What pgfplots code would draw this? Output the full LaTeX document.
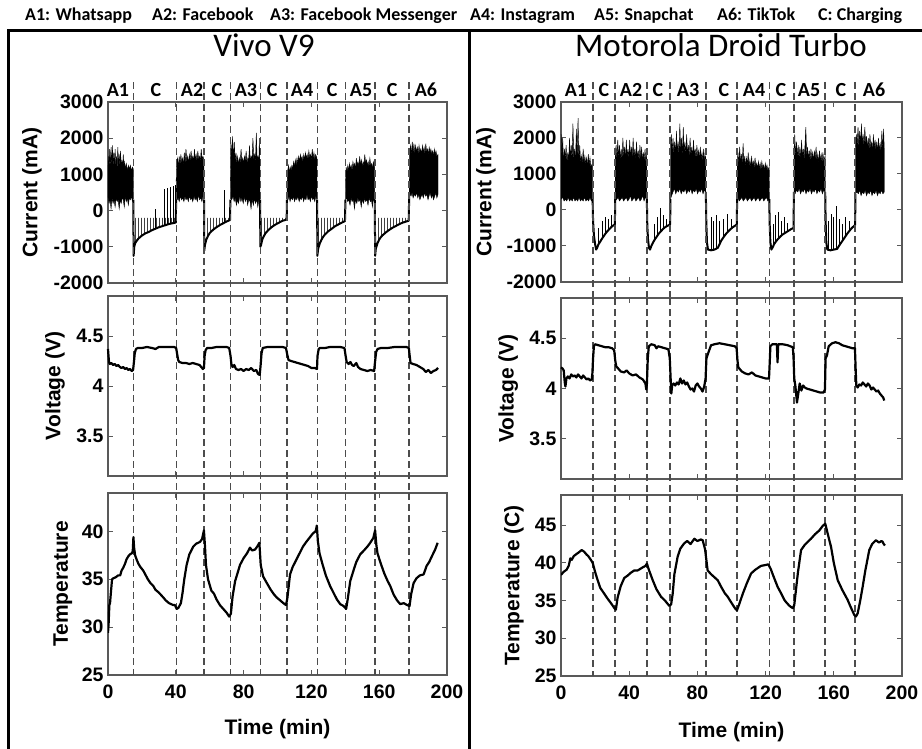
\documentclass[border=0pt]{standalone}
\usepackage{fontspec}
\setmainfont{Liberation Sans}
\newfontfamily\calibri{Carlito}
\usepackage{pgfplots}
\pgfplotsset{compat=1.18}
\usetikzlibrary{patterns}

\definecolor{boxgray}{gray}{0.35}
\definecolor{dashgray}{gray}{0.3}

\pgfplotsset{
  panel/.style={
    scale only axis, anchor=north west,
    xmin=0, xmax=200, xtick={0,40,...,200},
    tick align=inside, major tick length=5pt,
    axis line style={boxgray, line width=1.2pt},
    tick style={boxgray, line width=1pt},
    tick label style={font=\fontsize{19.5}{22}\selectfont\bfseries},
    yticklabel style={xshift=-1pt},
    xticklabel style={yshift=-6pt},
    label style={font=\fontsize{21}{24}\selectfont\bfseries},
    /pgf/number format/assume math mode=true,
    /pgf/number format/1000 sep={},
  },
  curaxis/.style={panel, ymin=-2000, ymax=3000, ytick={-2000,-1000,...,3000},
    xticklabels={}, clip=false, ylabel={Current (mA)}},
  voltaxis/.style={panel, ymin=3.1, ymax=4.9, ytick={3.5,4,4.5},
    xticklabels={}, clip=false, ylabel={Voltage (V)}},
  trace/.style={black, line width=2.2pt, line join=round},
  blockfill/.style={fill=black, draw=black, line width=0.4pt},
  chg/.style={black, line width=2pt, line join=round},
  comb/.style={draw=none, pattern=vertical lines, pattern color=black!75},
  spike/.style={black, line width=0.7pt, unbounded coords=jump},
}
\tikzset{
  dashline/.style={dashgray, line width=1.6pt, dash pattern=on 7pt off 4pt},
  phase/.style={font=\calibri\bfseries\fontsize{20}{22}\selectfont, anchor=base, yshift=5pt, inner sep=0pt},
  legtxt/.style={font=\calibri\bfseries\fontsize{18}{22}\selectfont, anchor=base west, inner sep=0pt},
  ttl/.style={font=\calibri\fontsize{33}{36}\selectfont, anchor=base, inner sep=0pt},
}

\begin{document}
\begin{tikzpicture}
\path[use as bounding box] (0pt,0pt) rectangle (922pt,-749pt);

% top key
\node[legtxt] at (25pt,-20.5pt) {A1: Whatsapp};
\node[legtxt] at (152pt,-20.5pt) {A2: Facebook};
\node[legtxt] at (270pt,-20.5pt) {A3: Facebook Messenger};
\node[legtxt] at (470pt,-20.5pt) {A4: Instagram};
\node[legtxt] at (594pt,-20.5pt) {A5: Snapchat};
\node[legtxt] at (717pt,-20.5pt) {A6: TikTok};
\node[legtxt] at (818pt,-20.5pt) {C: Charging};

% panel frame
\draw[line width=3pt] (922pt,-31pt) -- (8pt,-31pt) -- (8pt,-749pt);
\draw[line width=3pt] (469pt,-31pt) -- (469pt,-749pt);

\node[ttl] at (264pt,-56.5pt) {Vivo V9};
\node[ttl] at (721pt,-56.5pt) {Motorola Droid Turbo};

%================ Vivo V9 =================
\begin{axis}[curaxis, at={(108pt,-102pt)}, width=339pt, height=181pt,
  ylabel style={at={(axis description cs:-0.224,0.5)}, anchor=center}]
% app blocks
\addplot[blockfill] coordinates {(0,900)(0.2,1500)(0.6,1100)(1,1700)(1.4,1200)(1.8,1750)(2.2,1150)(2.6,1800)(3,1200)(3.4,1600)(3.8,1250)(4.2,1700)(4.6,1200)(5,1500)(5.4,1150)(5.8,1750)(6.2,1250)(6.6,1550)(7,1200)(7.4,1650)(7.8,1200)(8.2,1400)(8.6,1150)(9,1550)(9.4,1200)(9.8,1350)(10.2,1150)(10.8,1300)(11.4,1100)(12,1250)(12.6,1150)(13.2,1250)(13.8,1100)(14.4,1200)(14.9,1150)
 (14.9,350)(14.4,250)(13.8,400)(13.2,300)(12.6,350)(12,150)(11.4,350)(10.8,250)(10.2,400)(9.6,100)(9,300)(8.4,350)(7.8,200)(7.2,300)(6.6,50)(6,300)(5.4,250)(4.8,350)(4.2,100)(3.6,300)(3,200)(2.4,350)(1.8,50)(1.2,300)(0.6,200)(0,400)};
\addplot[blockfill] coordinates {(40.2,800)(40.5,1300)(41,1450)(41.5,1200)(42,1500)(42.5,1250)(43,1550)(43.5,1300)(44,1450)(44.5,1250)(45,1600)(45.5,1300)(46,1700)(46.5,1350)(47,1500)(47.5,1300)(48,1550)(48.5,1350)(49,1650)(49.5,1400)(50,1500)(50.5,1350)(51,1700)(51.5,1400)(52,1550)(52.5,1350)(53,1650)(53.5,1400)(54,1500)(54.5,1350)(55,1700)(55.5,1400)(56,1500)(56.6,1400)
 (56.6,300)(56,400)(55.4,250)(54.8,350)(54,300)(53.4,450)(52.8,250)(52,350)(51.4,300)(50.8,400)(50,250)(49.4,350)(48.8,300)(48,400)(47.4,250)(46.8,350)(46,300)(45.4,400)(44.8,250)(44,350)(43.4,300)(42.8,400)(42,250)(41.4,350)(40.8,300)(40.2,300)};
\addplot[blockfill] coordinates {(72.2,800)(72.5,1900)(73,1500)(73.5,2050)(74,1400)(74.5,1900)(75,1350)(75.5,1600)(76,1300)(76.5,1500)(77,1250)(77.5,1450)(78,1300)(78.5,1700)(79,1350)(79.5,1450)(80,1300)(80.5,1500)(81,1350)(81.5,1650)(82,1300)(82.5,1450)(83,1400)(83.5,1800)(84,1350)(84.5,1500)(85,1400)(85.5,2000)(86,1400)(86.5,1550)(87,1350)(87.5,2150)(88,1400)(88.5,1500)(89,1350)(89.3,2000)(89.6,1300)
 (89.6,150)(89,300)(88.4,100)(87.8,300)(87,200)(86.4,350)(85.8,150)(85,300)(84.4,50)(83.8,250)(83,300)(82.4,150)(81.8,350)(81,250)(80.4,400)(79.8,200)(79,350)(78.4,250)(77.8,400)(77,200)(76.4,300)(75.8,150)(75,350)(74.4,250)(73.8,400)(73,300)(72.2,350)};
\addplot[blockfill] coordinates {(105.6,700)(106,1100)(106.5,1250)(107,1050)(107.5,1200)(108,1100)(108.5,1250)(109,1150)(109.5,1350)(110,1200)(110.5,1400)(111,1250)(111.5,1450)(112,1300)(112.5,1500)(113,1350)(113.5,1550)(114,1400)(114.5,1500)(115,1350)(115.5,1550)(116,1400)(116.5,1600)(117,1450)(117.5,1550)(118,1400)(118.5,1650)(119,1450)(119.5,1550)(120,1400)(120.5,1700)(121,1450)(121.5,1600)(122,1400)(122.5,1550)(123.3,1450)
 (123.3,300)(122.6,400)(122,250)(121.4,350)(120.8,300)(120,400)(119.4,250)(118.8,350)(118,300)(117.4,450)(116.8,300)(116,350)(115.4,250)(114.8,400)(114,300)(113.4,350)(112.8,250)(112,400)(111.4,300)(110.8,350)(110,250)(109.4,400)(108.8,300)(108,350)(107.4,250)(106.8,400)(106.2,300)(105.6,300)};
\addplot[blockfill] coordinates {(140.1,700)(140.5,1200)(141,1050)(141.5,1250)(142,1100)(142.5,1300)(143,1150)(143.5,1250)(144,1100)(144.5,1350)(145,1200)(145.5,1300)(146,1150)(146.5,1450)(147,1250)(147.5,1350)(148,1200)(148.5,1500)(149,1250)(149.5,1400)(150,1200)(150.5,1350)(151,1250)(151.5,1550)(152,1300)(152.5,1400)(153,1250)(153.5,1350)(154,1200)(154.5,1450)(155,1250)(155.5,1300)(156,1150)(156.5,1350)(157.3,1200)
 (157.3,200)(156.6,350)(156,100)(155.4,300)(154.8,250)(154,350)(153.4,150)(152.8,300)(152,250)(151.4,350)(150.8,200)(150,300)(149.4,100)(148.8,300)(148,250)(147.4,350)(146.8,200)(146,300)(145.4,50)(144.8,300)(144,250)(143.4,350)(142.8,150)(142,300)(141.4,250)(140.8,350)(140.1,300)};
\addplot[blockfill] coordinates {(177.7,800)(178,1600)(178.5,1800)(179,1550)(179.5,1900)(180,1600)(180.5,1850)(181,1550)(181.5,1800)(182,1600)(182.5,1750)(183,1550)(183.5,1800)(184,1600)(184.5,1700)(185,1550)(185.5,1800)(186,1600)(186.5,1750)(187,1550)(187.5,1850)(188,1600)(188.5,1700)(189,1550)(189.5,1750)(190,1600)(190.5,1700)(191,1550)(191.5,1650)(192,1500)(192.5,1700)(193,1550)(193.5,1650)(194,1500)(194.7,1550)
 (194.7,450)(194,350)(193.4,500)(192.8,400)(192,300)(191.4,450)(190.8,350)(190,500)(189.4,400)(188.8,300)(188,450)(187.4,400)(186.8,500)(186,350)(185.4,450)(184.8,400)(184,300)(183.4,450)(182.8,350)(182,500)(181.4,400)(180.8,450)(180,350)(179.4,500)(178.8,400)(178.2,450)(177.7,500)};
% charging combs
\addplot[comb] coordinates {(15.5,-1000)(16,-900)(17,-830)(18,-770)(19,-730)(20,-690)(22,-630)(24,-590)(26,-540)(28,-500)(30,-460)(32,-430)(34,-400)(36,-370)(38,-350)(40,-330)(40,-200)(15.5,-200)};
\addplot[comb] coordinates {(57.2,-950)(58,-800)(59,-700)(60,-620)(62,-530)(64,-460)(66,-400)(68,-350)(70,-300)(72,-260)(72,-200)(57.2,-200)};
\addplot[comb] coordinates {(90.3,-950)(91,-800)(92,-700)(93,-620)(95,-520)(97,-440)(99,-380)(101,-330)(103,-280)(105.4,-250)(105.4,-200)(90.3,-200)};
\addplot[comb] coordinates {(124,-1050)(125,-900)(126,-800)(127,-720)(128,-660)(130,-570)(132,-500)(134,-430)(136,-380)(138,-330)(139.8,-290)(139.8,-200)(124,-200)};
\addplot[comb] coordinates {(158,-1050)(159,-900)(160,-800)(161,-730)(162,-680)(164,-600)(166,-530)(168,-470)(170,-420)(172,-370)(174,-330)(176,-300)(177.4,-280)(177.4,-200)(158,-200)};
% charging curves
\addplot[chg] coordinates {(14.95,300)(15.1,-1250)(15.5,-1000)(16,-900)(17,-830)(18,-770)(19,-730)(20,-690)(22,-630)(24,-590)(26,-540)(28,-500)(30,-460)(32,-430)(34,-400)(36,-370)(38,-350)(40,-330)(40.2,300)};
\addplot[chg] coordinates {(56.7,300)(56.8,-1100)(57.2,-950)(58,-800)(59,-700)(60,-620)(62,-530)(64,-460)(66,-400)(68,-350)(70,-300)(72,-260)(72.2,300)};
\addplot[chg] coordinates {(89.7,300)(89.9,-1000)(90.3,-950)(91,-800)(92,-700)(93,-620)(95,-520)(97,-440)(99,-380)(101,-330)(103,-280)(105.4,-250)(105.6,300)};
\addplot[chg] coordinates {(123.4,300)(123.5,-1250)(124,-1050)(125,-900)(126,-800)(127,-720)(128,-660)(130,-570)(132,-500)(134,-430)(136,-380)(138,-330)(139.8,-290)(140.1,300)};
\addplot[chg] coordinates {(157.4,300)(157.6,-1250)(158,-1050)(159,-900)(160,-800)(161,-730)(162,-680)(164,-600)(166,-530)(168,-470)(170,-420)(172,-370)(174,-330)(176,-300)(177.4,-280)(177.7,400)};
\addplot[spike] coordinates {(28,-500)(28,50)(28,nan)(33,-410)(33,600)(33,nan)(35,-390)(35,620)(35,nan)(36.8,-360)(36.8,640)(36.8,nan)(38.5,-345)(38.5,690)(38.5,nan)(39.5,-335)(39.5,700)(39.5,nan)(68.4,-350)(68.4,570)};
\pgfplotsinvokeforeach{15,40.3,56.8,72.3,90,105.6,123.5,140,157.6,177.6}{
  \draw[dashline] (axis cs:#1,3552) -- (axis cs:#1,-2359);}
\node[phase] at (axis cs:5.9,3000) {A1};
\node[phase] at (axis cs:28.3,3000) {C};
\node[phase] at (axis cs:49.6,3000) {A2};
\node[phase] at (axis cs:64.3,3000) {C};
\node[phase] at (axis cs:81.4,3000) {A3};
\node[phase] at (axis cs:96.8,3000) {C};
\node[phase] at (axis cs:114.5,3000) {A4};
\node[phase] at (axis cs:132.2,3000) {C};
\node[phase] at (axis cs:149.3,3000) {A5};
\node[phase] at (axis cs:167.6,3000) {C};
\node[phase] at (axis cs:187.6,3000) {A6};
\end{axis}

\begin{axis}[voltaxis, at={(108pt,-296pt)}, width=339pt, height=180pt,
  ylabel style={at={(axis description cs:-0.156,0.5)}, anchor=center}]
\pgfplotsinvokeforeach{15,40.3,56.8,72.3,90,105.6,123.5,140,157.6,177.6}{
  \draw[dashline] (axis cs:#1,4.9) -- (axis cs:#1,2.93);}
\addplot[trace] coordinates {(0,4.37)(0.3,4.30)(0.6,4.24)(1,4.22)(2,4.23)(3,4.21)(4,4.22)(5,4.20)(6,4.21)(7,4.19)(8,4.18)(9,4.19)(10,4.17)(11,4.18)(12,4.16)(13,4.17)(14,4.15)(14.8,4.16)(15.3,4.24)(15.8,4.33)(16.5,4.37)(17.5,4.38)(20,4.38)(23,4.39)(26,4.38)(28,4.37)(30,4.39)(33,4.39)(36,4.39)(39,4.39)(40.2,4.38)(40.8,4.32)(41.4,4.26)(42,4.24)(44,4.23)(46,4.23)(48,4.22)(50,4.23)(52,4.22)(54,4.21)(55,4.19)(56,4.17)(56.6,4.18)(57,4.30)(57.6,4.36)(58.5,4.38)(61,4.38)(64,4.39)(67,4.39)(70,4.39)(71.5,4.38)(72.3,4.30)(72.8,4.22)(73.5,4.19)(74.5,4.21)(75.5,4.17)(77,4.16)(78.5,4.17)(80,4.15)(81.5,4.17)(83,4.16)(84.5,4.18)(86,4.15)(87.5,4.16)(88.5,4.12)(89.5,4.11)(90,4.20)(90.6,4.33)(91.3,4.38)(94,4.39)(97,4.39)(100,4.39)(103,4.39)(105,4.38)(105.8,4.31)(106.5,4.26)(108,4.25)(110,4.24)(112,4.23)(114,4.22)(116,4.21)(118,4.20)(120,4.18)(122,4.18)(123.3,4.17)(123.6,4.30)(124.3,4.37)(125,4.38)(128,4.38)(131,4.39)(134,4.39)(137,4.39)(139.5,4.38)(140.2,4.30)(140.8,4.24)(142,4.22)(143,4.24)(144,4.21)(145,4.20)(146.5,4.23)(147.5,4.19)(149,4.17)(151,4.16)(153,4.15)(155,4.16)(157,4.15)(157.6,4.25)(158.2,4.34)(159,4.37)(161,4.38)(165,4.38)(169,4.39)(173,4.39)(176,4.39)(177.5,4.38)(178,4.30)(178.5,4.23)(180,4.22)(182,4.21)(184,4.19)(186,4.17)(187.5,4.14)(189,4.16)(190.5,4.13)(192,4.15)(193.5,4.16)(194.7,4.18)};
\end{axis}

\begin{axis}[panel, at={(108pt,-493pt)}, width=339pt, height=182pt,
  ymin=25, ymax=44, ytick={25,30,35,40},
  ylabel={Temperature}, xlabel={Time (min)},
  ylabel style={at={(axis description cs:-0.133,0.5)}, anchor=center},
  xlabel style={at={(axis description cs:0.5,-0.297)}, anchor=center}]
\pgfplotsinvokeforeach{15,40.3,56.8,72.3,90,105.6,123.5,140,157.6,177.6}{
  \draw[dashline] (axis cs:#1,44) -- (axis cs:#1,25);}
\addplot[trace] coordinates {(0,29.4)(0.4,30.5)(0.8,32.3)(1.2,32.5)(1.8,33.8)(2.4,35.0)(3.2,35.1)(4.5,35.2)(6,35.4)(7.2,35.4)(8,35.9)(9,36.2)(10,36.6)(11,37.1)(12,37.4)(13,37.6)(14,37.7)(14.6,37.9)(15,39.4)(15.4,38.3)(16,37.5)(17,37.0)(18,36.6)(19,36.3)(20.8,35.9)(22,35.5)(23.5,35.0)(25,34.6)(26.7,34.3)(28,33.9)(30,33.6)(32.6,33.1)(34,32.8)(36,32.5)(38.5,32.3)(39.5,32.3)(40.5,31.9)(41.5,32.0)(43,32.5)(44,33.6)(45,35.0)(46.4,36.5)(48,37.6)(50.3,38.4)(52,38.7)(54.3,38.9)(55.5,39.2)(56.6,40.1)(57.2,38.5)(57.8,36.5)(59,35.0)(61,33.8)(62.5,33.5)(64,32.9)(66,32.3)(68,31.9)(70,31.5)(71.5,31.1)(72.5,31.4)(73.5,33.2)(75,34.8)(77.9,36.5)(80,37.2)(82,37.7)(83.8,38.3)(85,38.0)(86.8,38.1)(88,38.4)(89.3,38.8)(90.1,36.5)(91.5,35.3)(93.7,34.6)(96,33.9)(98,33.4)(99.5,33.1)(101.5,32.8)(103.5,32.5)(105,32.3)(105.8,33.0)(107.4,35.5)(109,36.3)(111,37.0)(113.3,37.8)(115,38.4)(117,38.9)(119.2,39.4)(121,39.8)(122.5,40.0)(123.2,40.6)(123.8,39.0)(124.8,37.7)(126.5,36.6)(128.5,35.4)(131,34.3)(133,33.6)(135,32.9)(137,32.4)(139,32.2)(140.5,31.9)(141.5,33.0)(142.9,34.8)(145,36.0)(146.5,36.8)(148.8,37.6)(151,38.0)(153,38.4)(154.7,38.8)(156.5,39.3)(157.6,40.1)(158.3,38.6)(159,37.7)(161,36.6)(163,35.6)(165,34.8)(166.5,34.3)(168.5,33.4)(170.5,32.8)(172.4,32.4)(174.5,32.5)(176.5,32.3)(177.9,32.2)(178.8,33.4)(180.3,34.6)(182,35.1)(184,35.4)(186.2,35.5)(188,36.4)(189.5,36.8)(191.1,37.4)(193,38.1)(194.5,38.8)};
\end{axis}

%================ Motorola Droid Turbo =================
\begin{axis}[curaxis, at={(561pt,-102pt)}, width=341pt, height=180pt,
  ylabel style={at={(axis description cs:-0.22,0.5)}, anchor=center}]
\addplot[blockfill] coordinates {(0.1,2100)(0.5,1500)(1,2000)(1.5,1300)(2,1700)(2.5,1400)(3,1800)(3.5,1300)(4,1600)(4.5,1350)(5,2000)(5.5,1400)(6,1800)(6.5,1350)(7,2400)(7.5,1400)(8,1700)(8.5,1300)(9,2250)(9.5,1400)(10,2550)(10.5,1350)(11,1800)(11.5,1300)(12,1500)(12.5,1250)(13,1700)(13.5,1300)(14,1500)(14.5,1250)(15,1450)(15.5,1200)(16,1550)(16.5,1250)(17,1450)(17.5,1200)(18.5,1300)
 (18.5,300)(17.8,250)(17,350)(16.2,250)(15.4,300)(14.6,250)(13.8,350)(13,250)(12.2,300)(11.4,250)(10.6,350)(9.8,250)(9,300)(8.2,250)(7.4,350)(6.6,250)(5.8,300)(5,250)(4.2,350)(3.4,250)(2.6,300)(1.8,250)(1,350)(0.1,300)};
\addplot[blockfill] coordinates {(31.8,1500)(32.3,1800)(32.8,1400)(33.3,1950)(33.8,1450)(34.3,1800)(34.8,1400)(35.3,1700)(35.8,1350)(36.3,2000)(36.8,1450)(37.3,1750)(37.8,1400)(38.3,1950)(38.8,1450)(39.3,1700)(39.8,1400)(40.3,1950)(40.8,1450)(41.3,1750)(41.8,1400)(42.3,2000)(42.8,1450)(43.3,1700)(43.8,1400)(44.3,1900)(44.8,1400)(45.3,1650)(45.8,1350)(46.3,1800)(46.8,1400)(47.3,1750)(47.8,1350)(48.3,1600)(48.8,1350)(49.3,1700)(49.8,1300)(50.3,1550)
 (50.3,300)(49.5,350)(48.7,250)(47.9,400)(47.1,300)(46.3,250)(45.5,350)(44.7,300)(43.9,250)(43.1,350)(42.3,300)(41.5,250)(40.7,400)(39.9,300)(39.1,250)(38.3,350)(37.5,300)(36.7,250)(35.9,350)(35.1,300)(34.3,250)(33.5,350)(32.7,300)(31.8,250)};
\addplot[blockfill] coordinates {(64.2,1800)(64.7,2100)(65.2,1600)(65.7,2000)(66.2,1550)(66.7,1900)(67.2,1500)(67.7,2200)(68.2,1600)(68.7,1900)(69.2,1500)(69.7,2400)(70.2,1600)(70.7,2000)(71.2,1500)(71.7,2300)(72.2,1600)(72.7,1900)(73.2,1500)(73.7,2100)(74.2,1550)(74.7,1800)(75.2,1450)(75.7,2000)(76.2,1500)(76.7,1750)(77.2,1450)(77.7,1950)(78.2,1500)(78.7,1700)(79.2,1400)(79.7,1800)(80.2,1450)(80.7,1650)(81.2,1400)(81.7,1750)(82.2,1400)(82.7,1600)(83.2,1350)(83.7,1700)(84.2,1400)(84.9,1500)
 (84.9,500)(84.1,550)(83.3,450)(82.5,600)(81.7,500)(80.9,550)(80.1,450)(79.3,600)(78.5,500)(77.7,550)(76.9,450)(76.1,600)(75.3,500)(74.5,550)(73.7,450)(72.9,600)(72.1,500)(71.3,550)(70.5,450)(69.7,600)(68.9,500)(68.1,550)(67.3,450)(66.5,600)(65.7,500)(64.9,400)(64.2,300)};
\addplot[blockfill] coordinates {(103.3,1300)(103.8,1600)(104.3,1250)(104.8,1750)(105.3,1300)(105.8,1550)(106.3,1250)(106.8,1850)(107.3,1300)(107.8,1500)(108.3,1200)(108.8,1450)(109.3,1250)(109.8,1600)(110.3,1200)(110.8,1400)(111.3,1150)(111.8,1500)(112.3,1200)(112.8,1350)(113.3,1150)(113.8,1450)(114.3,1200)(114.8,1300)(115.3,1150)(115.8,1350)(116.3,1150)(116.8,1300)(117.3,1100)(117.8,1350)(118.3,1150)(118.8,1250)(119.3,1100)(119.8,1300)(120.3,1150)(120.8,1250)(121.3,1100)(122.1,1200)
 (122.1,300)(121.3,250)(120.5,350)(119.7,300)(118.9,250)(118.1,350)(117.3,300)(116.5,250)(115.7,350)(114.9,300)(114.1,250)(113.3,350)(112.5,300)(111.7,250)(110.9,350)(110.1,300)(109.3,250)(108.5,350)(107.7,300)(106.9,250)(106.1,350)(105.3,300)(104.5,250)(103.7,350)(103.3,300)};
\addplot[blockfill] coordinates {(136.6,1600)(137.1,2100)(137.6,1500)(138.1,1900)(138.6,1450)(139.1,1800)(139.6,1400)(140.1,1750)(140.6,1400)(141.1,1950)(141.6,1450)(142.1,1700)(142.6,1400)(143.1,1800)(143.6,2300)(144.1,1450)(144.6,1750)(145.1,1400)(145.6,1650)(146.1,1350)(146.6,1700)(147.1,1400)(147.6,1600)(148.1,1350)(148.6,1650)(149.1,1400)(149.6,1750)(150.1,1350)(150.6,1550)(151.1,1300)(151.6,1650)(152.1,1350)(152.6,1550)(153.1,1300)(153.6,1600)(154.1,1350)(154.9,1500)
 (154.9,500)(154.1,550)(153.3,450)(152.5,600)(151.7,500)(150.9,550)(150.1,450)(149.3,600)(148.5,500)(147.7,550)(146.9,450)(146.1,600)(145.3,500)(144.5,550)(143.7,450)(142.9,600)(142.1,500)(141.3,550)(140.5,450)(139.7,600)(138.9,500)(138.1,550)(137.3,450)(136.6,500)};
\addplot[blockfill] coordinates {(172.7,1700)(173.2,2100)(173.7,1800)(174.2,2300)(174.7,1750)(175.2,2200)(175.7,1800)(176.2,2400)(176.7,1850)(177.2,2100)(177.7,1750)(178.2,2300)(178.7,1800)(179.2,2050)(179.7,1700)(180.2,2000)(180.7,1650)(181.2,2100)(181.7,1700)(182.2,1900)(182.7,1600)(183.2,2100)(183.7,1700)(184.2,1950)(184.7,1650)(185.2,1900)(185.7,1600)(186.2,2000)(186.7,1650)(187.2,1850)(187.7,1600)(188.2,2200)(188.7,1650)(189.2,2250)(189.6,1700)
 (189.6,500)(188.8,450)(188,550)(187.2,450)(186.4,500)(185.6,400)(184.8,550)(184,450)(183.2,500)(182.4,400)(181.6,550)(180.8,450)(180,500)(179.2,400)(178.4,550)(177.6,450)(176.8,500)(176,400)(175.2,550)(174.4,450)(173.6,500)(172.7,450)};
\addplot[chg] coordinates {(18.55,300)(18.8,-300)(19.3,-700)(20,-950)(20.6,-1100)(21.2,-1050)(22,-950)(23,-880)(24,-800)(25,-730)(26,-660)(27,-600)(28,-550)(29,-500)(30,-450)(31.6,-400)(31.8,300)};
\addplot[chg] coordinates {(50.35,300)(50.6,-400)(51,-800)(51.6,-1050)(52.2,-1100)(53,-1000)(54,-900)(55,-820)(56,-750)(57,-680)(58,-620)(59,-570)(60,-520)(61,-480)(62,-450)(64,-400)(64.2,300)};
\addplot[chg] coordinates {(84.95,500)(85.2,-300)(85.6,-900)(86.2,-1100)(88,-1120)(90,-1100)(92,-1050)(93,-950)(94,-850)(95,-780)(96,-710)(97,-650)(98,-600)(99,-550)(100,-510)(101,-470)(102,-440)(103.1,-400)(103.3,300)};
\addplot[chg] coordinates {(122.15,300)(122.4,-400)(122.8,-900)(123.4,-1100)(124,-1050)(125,-950)(126,-880)(127,-820)(128,-770)(129,-720)(130,-680)(131,-650)(132,-620)(133,-590)(134,-560)(135,-530)(136.4,-500)(136.6,500)};
\addplot[chg] coordinates {(154.95,500)(155.2,-300)(155.6,-900)(156.2,-1100)(158,-1120)(160,-1100)(162,-1080)(163,-1000)(164,-930)(165,-860)(166,-790)(167,-720)(168,-650)(169,-590)(170,-530)(171,-480)(172.5,-420)(172.7,450)};
\addplot[spike] coordinates {(22,-950)(22,-500)(22,nan)(24,-800)(24,-300)(24,nan)(26,-660)(26,-200)(26,nan)(28,-550)(28,-250)(28,nan)(29.5,-480)(29.5,-150)(29.5,nan)
 (55,-820)(55,-400)(55,nan)(56.5,-720)(56.5,-200)(56.5,nan)(58.5,-600)(58.5,50)(58.5,nan)(60,-520)(60,-150)(60,nan)(62,-450)(62,-250)(62,nan)
 (88,-1120)(88,-200)(88,nan)(89.5,-1100)(89.5,-300)(89.5,nan)(91,-1080)(91,-150)(91,nan)(93,-950)(93,-300)(93,nan)(95.5,-750)(95.5,-250)(95.5,nan)(97.5,-620)(97.5,-100)(97.5,nan)(100,-510)(100,-250)(100,nan)
 (124.5,-1000)(124.5,-400)(124.5,nan)(126,-880)(126,-150)(126,nan)(127.5,-800)(127.5,-50)(127.5,nan)(129,-720)(129,-300)(129,nan)(131,-650)(131,-200)(131,nan)(133,-590)(133,-350)(133,nan)
 (157,-1110)(157,-300)(157,nan)(158.5,-1120)(158.5,-100)(158.5,nan)(160,-1100)(160,-200)(160,nan)(161.5,-1080)(161.5,100)(161.5,nan)(163,-1000)(163,-250)(163,nan)(165,-860)(165,-400)(165,nan)(167,-720)(167,-200)(167,nan)(169,-590)(169,-300)};
\pgfplotsinvokeforeach{18.6,31.7,50.4,64.1,85,103.2,122.2,136.5,155,172.6}{
  \draw[dashline] (axis cs:#1,3556) -- (axis cs:#1,-2444);}
\node[phase] at (axis cs:8.8,3000) {A1};
\node[phase] at (axis cs:25.2,3000) {C};
\node[phase] at (axis cs:41.1,3000) {A2};
\node[phase] at (axis cs:56.9,3000) {C};
\node[phase] at (axis cs:74.5,3000) {A3};
\node[phase] at (axis cs:95.6,3000) {C};
\node[phase] at (axis cs:113.2,3000) {A4};
\node[phase] at (axis cs:129,3000) {C};
\node[phase] at (axis cs:145.5,3000) {A5};
\node[phase] at (axis cs:164.2,3000) {C};
\node[phase] at (axis cs:183.6,3000) {A6};
\end{axis}

\begin{axis}[voltaxis, at={(561pt,-298pt)}, width=341pt, height=181pt,
  ylabel style={at={(axis description cs:-0.155,0.5)}, anchor=center}]
\pgfplotsinvokeforeach{18.6,31.7,50.4,64.1,85,103.2,122.2,136.5,155,172.6}{
  \draw[dashline] (axis cs:#1,4.9) -- (axis cs:#1,2.94);}
\addplot[trace] coordinates {(0,4.21)(0.8,4.20)(1.6,4.18)(2.2,4.06)(2.6,4.02)(3.2,4.10)(4,4.12)(5,4.10)(6,4.14)(7,4.12)(8,4.13)(9,4.11)(10,4.14)(11,4.12)(12,4.10)(13,4.13)(14,4.11)(15,4.09)(16,4.10)(17,4.08)(18,4.09)(18.4,4.15)(18.8,4.30)(19.3,4.42)(20,4.44)(22,4.43)(24,4.42)(26,4.41)(28,4.41)(30,4.40)(31.2,4.38)(31.8,4.28)(32.4,4.22)(33.5,4.20)(35,4.17)(37,4.16)(38.5,4.18)(40,4.15)(42,4.13)(44,4.14)(46,4.11)(48,4.09)(49.5,4.05)(50,3.99)(50.4,4.05)(50.9,4.30)(51.5,4.42)(53,4.44)(55,4.43)(56,4.40)(57,4.42)(59,4.41)(61,4.40)(63,4.39)(63.8,4.30)(64.3,4.10)(64.7,3.95)(65.2,4.03)(66,4.05)(67,4.03)(68,4.06)(69,4.04)(70,4.10)(71,4.05)(72,4.08)(73,4.04)(74,4.06)(75,4.02)(76,3.99)(77,4.00)(78,3.97)(79,4.03)(80,4.05)(81,4.02)(82,4.00)(83,3.97)(84,4.02)(84.8,4.10)(85.3,4.30)(86.5,4.36)(88,4.43)(90,4.44)(93,4.45)(96,4.44)(99,4.43)(102,4.42)(103,4.40)(103.5,4.28)(104,4.21)(106,4.17)(108,4.15)(110,4.14)(112,4.16)(114,4.13)(116,4.12)(118,4.11)(120,4.10)(122,4.10)(122.4,4.25)(122.8,4.42)(124,4.44)(126.6,4.44)(127,4.26)(127.4,4.44)(130,4.44)(133,4.43)(136,4.41)(136.4,4.30)(136.8,4.10)(137.5,4.02)(138.4,3.86)(139,3.93)(140,4.05)(141,3.98)(142,4.03)(143,4.01)(144,4.00)(146,3.99)(148,3.98)(150,3.97)(152,3.96)(154,3.96)(154.8,3.99)(155.2,4.30)(156,4.33)(157,4.42)(159,4.45)(161,4.46)(163,4.45)(165,4.43)(167,4.42)(169,4.41)(171,4.40)(172.4,4.40)(172.8,4.20)(173.2,4.03)(174,4.01)(175,4.04)(176,4.03)(177,4.06)(178,4.04)(179,4.02)(180,4.05)(181,4.03)(182,3.99)(183,4.01)(184,3.99)(185,3.97)(186,3.98)(187,3.95)(188,3.93)(189,3.91)(189.6,3.88)};
\end{axis}

\begin{axis}[panel, at={(561pt,-495pt)}, width=341pt, height=181pt,
  ymin=25, ymax=49, ytick={25,30,...,45},
  ylabel={Temperature (C)}, xlabel={Time (min)},
  ylabel style={at={(axis description cs:-0.138,0.5)}, anchor=center},
  xlabel style={at={(axis description cs:0.5,-0.31)}, anchor=center}]
\pgfplotsinvokeforeach{18.6,31.7,50.4,64.1,85,103.2,122.2,136.5,155,172.6}{
  \draw[dashline] (axis cs:#1,49) -- (axis cs:#1,25);}
\addplot[trace] coordinates {(0,38.4)(1.5,38.8)(3.3,39.1)(4.5,39.6)(5.5,40.6)(6.3,40.4)(7.5,40.9)(9.2,41.2)(10.5,41.4)(12.1,41.7)(13.5,41.5)(15,41.1)(16,40.9)(17.5,40.4)(18.6,40.0)(20,38.8)(21.5,37.7)(23,36.7)(25.4,35.9)(27.5,35.2)(29.5,34.6)(31.3,34.0)(32.2,33.8)(33.2,35.4)(35,36.9)(37.1,38.0)(39,38.3)(41,38.7)(43,39.0)(45,39.0)(47.9,39.4)(49.5,39.6)(50.4,39.9)(51.5,39.1)(53.8,37.7)(56,36.5)(58.7,35.5)(61,35.0)(63.5,34.3)(64.6,34.5)(65.5,35.9)(66.5,38.5)(68.4,40.8)(70,41.9)(72.3,42.6)(74,42.9)(76,42.5)(78.2,43.2)(80,42.9)(82,43.1)(83.1,43.0)(84.5,41.8)(86,39.0)(88,38.5)(91.9,37.7)(94,36.8)(96,36.0)(97.8,35.5)(100,34.7)(102,34.0)(103.2,33.7)(104.5,34.5)(106.6,35.9)(109,37.3)(111.5,38.6)(114,39.1)(117.3,39.6)(119.5,39.7)(121.6,39.8)(123,39.2)(125,38.0)(127.1,36.8)(129,36.0)(131,35.1)(132,34.8)(134,34.3)(135.9,34.0)(136.8,34.4)(137.8,36.4)(139,38.8)(140.8,41.7)(143,42.4)(146.6,43.2)(149,43.8)(151.5,44.3)(153.5,44.9)(155,45.2)(156.5,43.8)(158.4,42.1)(160,40.0)(162.3,37.7)(165,36.4)(168.1,35.1)(170,34.1)(172,33.1)(173,32.9)(174,33.3)(175.5,35.0)(176.9,36.8)(178.5,39.0)(180.8,41.7)(182.5,42.5)(184.7,43.0)(186.5,42.7)(188,42.9)(188.6,42.8)(189.3,42.5)(190,42.3)};
\end{axis}
\end{tikzpicture}
\end{document}
